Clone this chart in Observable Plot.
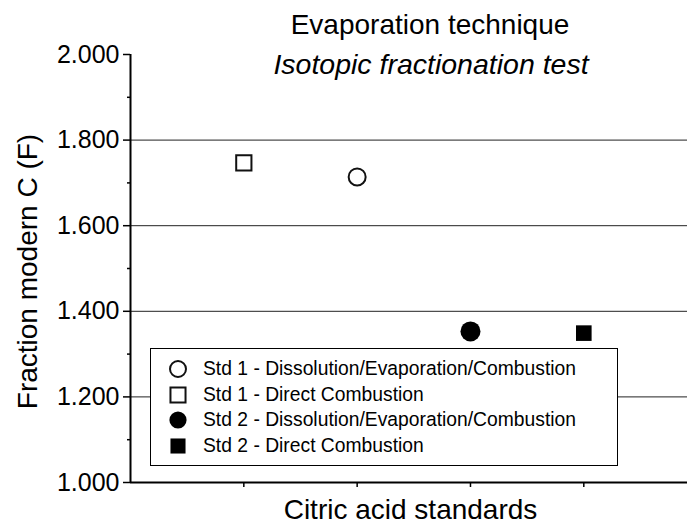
<!DOCTYPE html>
<html>
<head>
<meta charset="utf-8">
<script src="https://cdn.jsdelivr.net/npm/d3@7"></script>
<script src="https://cdn.jsdelivr.net/npm/@observablehq/plot@0.6"></script>
<style>
  body { margin: 0; background: #fff; }
  #chart { position: relative; width: 687px; height: 525px; font-family: "Liberation Sans", Arial, Helvetica, sans-serif; }
  #legend { position: absolute; left: 150px; top: 348px; width: 468px; height: 118px; box-sizing: border-box; border: 1.5px solid #000; background: #fff; }
  .row { position: absolute; left: 0; height: 26px; display: flex; align-items: center; }
  .row svg { position: absolute; left: 14px; top: 0; }
  .row span { position: absolute; left: 52px; white-space: nowrap; font-size: 19.3px; color: #000; line-height: 26px; top: 0; }
</style>
</head>
<body>
<div id="chart"></div>
<script>
// ---- data ----
const series = [
  "Std 1 - Dissolution/Evaporation/Combustion",
  "Std 1 - Direct Combustion",
  "Std 2 - Dissolution/Evaporation/Combustion",
  "Std 2 - Direct Combustion"
];
const xPositions = [2, 1, 3, 4];
const fValues = [1.714, 1.747, 1.353, 1.349];
const shapes = ["circle", "square", "circle", "square"];
const filled = [false, false, true, true];
const yMajorTicks = [1.0, 1.2, 1.4, 1.6, 1.8, 2.0];
const yMinorTicks = [1.1, 1.3, 1.5, 1.7, 1.9];
const gridValues = [1.2, 1.4, 1.6, 1.8];
const xTicks = [1, 2, 3, 4];
const title = "Evaporation technique";
const subtitle = "Isotopic fractionation test";
const xLabel = "Citric acid standards";
const yLabel = "Fraction modern C (F)";

const data = series.map((s, i) => ({series: s, x: xPositions[i], f: fValues[i], shape: shapes[i], filled: filled[i]}));

const radius = {circle: {false: 8.5, true: 10}, square: {false: 8.6, true: 8.8}};

const dotMarks = data.map(d => Plot.dot([d], {
  x: "x", y: "f",
  symbol: d.shape,
  r: radius[d.shape][d.filled],
  fill: d.filled ? "#000" : "#fff",
  stroke: d.filled ? "none" : "#111",
  strokeWidth: 2
}));

const plot = Plot.plot({
  width: 687,
  height: 525,
  marginLeft: 130,
  marginRight: 0,
  marginTop: 54,
  marginBottom: 43,
  style: {fontFamily: "Liberation Sans, Arial, Helvetica, sans-serif", fontSize: "25px", background: "#fff", color: "#000", overflow: "visible"},
  x: {domain: [0, 4.915], axis: null},
  y: {domain: [1, 2], axis: null},
  marks: [
    Plot.ruleY(gridValues, {stroke: "#222", strokeWidth: 1}),
    Plot.axisY({ticks: yMajorTicks, tickFormat: d3.format(".3f"), tickSize: 7, tickPadding: 4, fontSize: 25, strokeWidth: 1.5, label: null}),
    Plot.axisY({ticks: yMinorTicks, tickFormat: () => "", tickSize: 3, strokeWidth: 1.5, label: null}),
    Plot.axisX({ticks: xTicks, tickFormat: () => "", tickSize: 5, strokeWidth: 1.5, label: null}),
    Plot.ruleX([0], {strokeWidth: 2}),
    Plot.ruleY([1], {strokeWidth: 2}),
    ...dotMarks,
    Plot.text([title], {frameAnchor: "top", dx: 21, dy: -29, fontSize: 28, lineAnchor: "middle"}),
    Plot.text([subtitle], {frameAnchor: "top", dx: 22, dy: 10, fontSize: 28.5, fontStyle: "italic", lineAnchor: "middle"}),
    Plot.text([xLabel], {frameAnchor: "bottom", dx: 1.5, dy: 28, fontSize: 28, lineAnchor: "middle"}),
    Plot.text([yLabel], {frameAnchor: "left", dx: -102, dy: 3, rotate: -90, fontSize: 28, textAnchor: "middle", lineAnchor: "middle"})
  ]
});

const chart = document.getElementById("chart");
chart.appendChild(plot);

// legend
const legend = document.createElement("div");
legend.id = "legend";
const rowCenters = [21.3, 47, 72.7, 98];
const legendR = {circle: {false: 8, true: 8.6}, square: {false: 8.5, true: 8.5}};
data.forEach((d, i) => {
  const row = document.createElement("div");
  row.className = "row";
  row.style.top = (rowCenters[i] - 13 - 1.5) + "px";
  const r = legendR[d.shape][d.filled];
  const sym = d3.symbol(d.shape === "circle" ? d3.symbolCircle : d3.symbolSquare, Math.PI * r * r)();
  const svg = d3.create("svg").attr("width", 26).attr("height", 26);
  svg.append("path").attr("d", sym).attr("transform", "translate(13,13)")
    .attr("fill", d.filled ? "#000" : "#fff")
    .attr("stroke", d.filled ? "none" : "#111")
    .attr("stroke-width", 2);
  row.appendChild(svg.node());
  const span = document.createElement("span");
  span.textContent = d.series;
  row.appendChild(span);
  legend.appendChild(row);
});
chart.appendChild(legend);
</script>
</body>
</html>
